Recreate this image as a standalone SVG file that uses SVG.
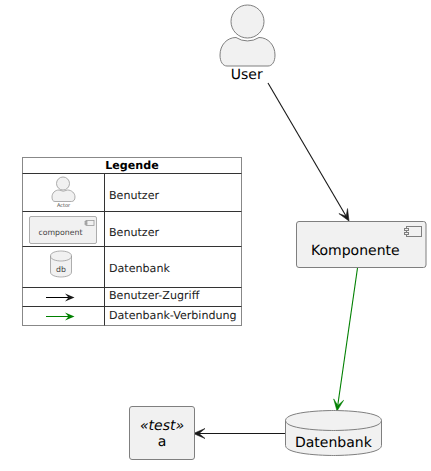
<svg xmlns="http://www.w3.org/2000/svg" width="431" height="471" viewBox="0 0 431 471">
<style>
text{font-family:"DejaVu Sans",sans-serif;fill:#000;text-rendering:geometricPrecision}
.n{font-size:14px}
.l{font-size:11.1px;fill:#222}
.t{fill:#444}
.s{fill:#f1f1f1;stroke:#7f7f7f;stroke-width:1}
.o{fill:none;stroke:#7f7f7f;stroke-width:1}
.m{fill:#f1f1f1;stroke:#999;stroke-width:.8}
.p{fill:none;stroke:#999;stroke-width:.8}
.g{stroke:#333;stroke-width:1;fill:none}
.c{fill:none;stroke:#181818;stroke-width:1.1}
</style>
<rect width="431" height="471" fill="#fff"/>
<g id="connectors">
<path class="c" d="M268,83 L346,216"/>
<path fill="#181818" stroke="#181818" stroke-width=".6" d="M349,221 L338.900,213.600 L346.200,216.300 L347.500,208.600 Z"/>
<path d="M357.500,268 L337.800,405" fill="none" stroke="#008000" stroke-width="1.100"/>
<path fill="#008000" stroke="#008000" stroke-width=".6" d="M337,411 L333.700,398.900 L337.800,405.600 L343.600,400.300 Z"/>
<path class="c" d="M285,433.500 L199,433.500"/>
<path fill="#181818" stroke="#181818" stroke-width=".6" d="M193.500,433.500 L205,428.500 L199,433.500 L205,438.500 Z"/>
</g>
<g id="user">
<circle class="s" cx="247.500" cy="21.500" r="16.500"/>
<path class="s" d="M236,37.500 A21,21 0 0 0 259,37.500 C268,37.500 275,45 275,55 C275,62 272,66 268,66 L227,66 C223,66 220,62 220,55 C220,45 227,37.500 236,37.500 Z"/>
<text class="n" x="246.800" y="79" text-anchor="middle">User</text>
</g>
<g id="komponente">
<rect class="s" x="296.500" y="221.500" width="129.500" height="46" rx="2.500"/>
<rect class="s" x="406.500" y="226.500" width="15" height="10"/>
<rect class="s" x="404.500" y="228.500" width="4" height="2"/>
<rect class="s" x="404.500" y="232.500" width="4" height="2"/>
<text class="n" x="311" y="255">Komponente</text>
</g>
<g id="datenbank">
<path class="s" d="M285.500,420.500 C285.500,410.500 333.500,410.500 333.500,410.500 C333.500,410.500 381.500,410.500 381.500,420.500 L381.500,445.500 C381.500,455.500 333.500,455.500 333.500,455.500 C333.500,455.500 285.500,455.500 285.500,445.500 Z"/>
<path class="o" d="M285.500,420.500 C285.500,430.500 333.500,430.500 333.500,430.500 C333.500,430.500 381.500,430.500 381.500,420.500"/>
<text class="n" x="295" y="447">Datenbank</text>
</g>
<g id="a">
<rect class="s" x="129.500" y="406.500" width="65" height="53" rx="2.500"/>
<text class="n" x="162" y="430" text-anchor="middle" font-style="italic">«test»</text>
<text class="n" x="162" y="446" text-anchor="middle">a</text>
</g>
<g id="legend">
<rect x="22.500" y="157.500" width="219" height="168" fill="#fff" stroke="#888"/>
<path class="g" d="M22.500,173.500H241.500M22.500,211.500H241.500M22.500,246.500H241.500M22.500,287.500H241.500M22.500,306.500H241.500M104.500,173.500V325.500"/>
<text x="132" y="168.500" text-anchor="middle" font-size="11.100" font-weight="bold">Legende</text>
<circle class="m" cx="63" cy="183.500" r="6.500"/>
<path class="m" d="M59,190 A8.500,8.500 0 0 0 67.500,190 C71.500,190 75,193 75,197 C75,200 73.500,201.500 71.500,201.500 L55,201.500 C53,201.500 52,200 52,197 C52,193 55,190 59,190 Z"/>
<text class="t" x="63.500" y="207" text-anchor="middle" font-size="5">Actor</text>
<rect class="m" x="29.500" y="216.500" width="67" height="27" rx="1.500"/>
<rect class="m" x="86" y="220.500" width="8" height="5"/>
<rect class="m" x="85" y="221.500" width="2" height="1"/>
<rect class="m" x="85" y="223.500" width="2" height="1"/>
<text class="t" x="60.500" y="235" text-anchor="middle" font-size="7.800">component</text>
<path class="m" d="M50.500,256 C50.500,251 61,251 61,251 C61,251 71.500,251 71.500,256 L71.500,272 C71.500,277 61,277 61,277 C61,277 50.500,277 50.500,272 Z"/>
<path class="p" d="M50.500,256 C50.500,261 61,261 61,261 C61,261 71.500,261 71.500,256"/>
<text class="t" x="61" y="272" text-anchor="middle" font-size="7.800">db</text>
<text class="l" x="109" y="198.500">Benutzer</text>
<text class="l" x="109" y="236">Benutzer</text>
<text class="l" x="109" y="272">Datenbank</text>
<text class="l" x="109" y="299">Benutzer-Zugriff</text>
<text class="l" x="109" y="319">Datenbank-Verbindung</text>
<path d="M46,297.500H71" stroke="#000" fill="none"/>
<path d="M74.500,297.500L65,293.500L68.500,297.500L65,301.500Z" fill="#181818"/>
<path d="M46,316.500H71" stroke="#008000" fill="none"/>
<path d="M74.500,316.500L65,312.500L68.500,316.500L65,320.500Z" fill="#008000"/>
</g>
</svg>
